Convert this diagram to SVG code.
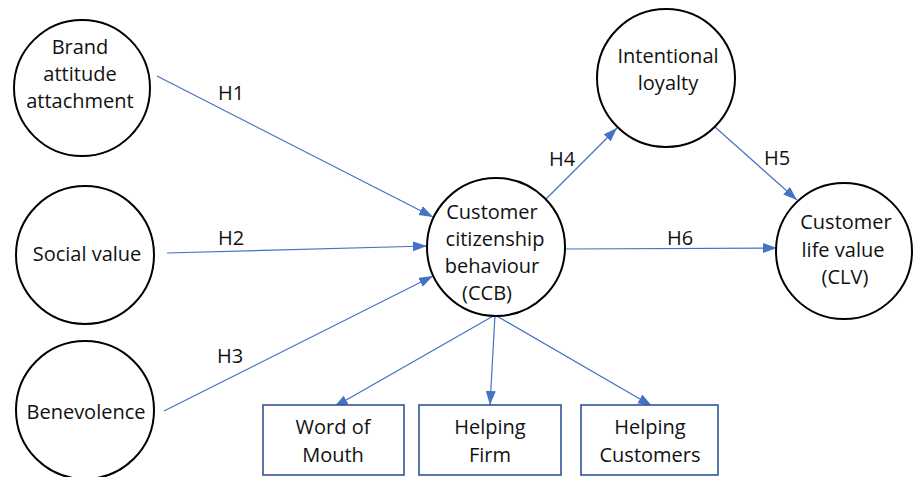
<svg xmlns="http://www.w3.org/2000/svg" width="914" height="477" viewBox="0 0 914 477">
<defs>
<marker id="ah" markerUnits="userSpaceOnUse" markerWidth="15" markerHeight="11" refX="14" refY="5" orient="auto">
<path d="M0,0 L14,5 L0,10 z" fill="#4472C4"/>
</marker>
<style>
.c{fill:#fff;stroke:#000;stroke-width:2}
.b{fill:#fff;stroke:#2F5597;stroke-width:1.6}
.t{font-family:"Open Sans","Liberation Sans",sans-serif;font-size:20px;fill:#111;text-anchor:middle}
.e{fill:none;stroke:#4472C4;stroke-width:1.2;marker-end:url(#ah)}
</style>
</defs>
<rect width="914" height="477" fill="#fff"/>
<g id="connectors">
<line class="e" x1="157" y1="76" x2="433" y2="217"/>
<line class="e" x1="167" y1="253" x2="427" y2="246"/>
<line class="e" x1="164" y1="411" x2="433" y2="276"/>
<line class="e" x1="540" y1="205" x2="617" y2="128"/>
<line class="e" x1="715" y1="127" x2="797" y2="200"/>
<line class="e" x1="565" y1="249" x2="777" y2="248"/>
<line class="e" x1="495" y1="315" x2="334" y2="407"/>
<line class="e" x1="495" y1="315" x2="490" y2="405"/>
<line class="e" x1="495" y1="315" x2="652" y2="406"/>
<text class="t" x="231" y="100">H1</text>
<text class="t" x="231" y="245">H2</text>
<text class="t" x="230" y="363">H3</text>
<text class="t" x="562" y="166">H4</text>
<text class="t" x="777" y="165">H5</text>
<text class="t" x="680" y="245">H6</text>
</g>
<g id="brand">
<circle class="c" cx="82" cy="88" r="68"/>
<text class="t" x="80" y="54">Brand</text>
<text class="t" x="80" y="81">attitude</text>
<text class="t" x="80" y="108">attachment</text>
</g>
<g id="social">
<circle class="c" cx="85" cy="255" r="69"/>
<text class="t" x="87" y="261">Social value</text>
</g>
<g id="benevolence">
<circle class="c" cx="85" cy="410" r="69"/>
<text class="t" x="86" y="419">Benevolence</text>
</g>
<g id="ccb">
<circle class="c" cx="496" cy="247" r="69"/>
<text class="t" x="492" y="219">Customer</text>
<text class="t" x="495" y="246">citizenship</text>
<text class="t" x="492" y="273">behaviour</text>
<text class="t" x="487" y="300">(CCB)</text>
</g>
<g id="loyalty">
<circle class="c" cx="666" cy="78" r="69"/>
<text class="t" x="668" y="63">Intentional</text>
<text class="t" x="668" y="90">loyalty</text>
</g>
<g id="clv">
<circle class="c" cx="844" cy="251" r="68"/>
<text class="t" x="846" y="229">Customer</text>
<text class="t" x="843" y="257">life value</text>
<text class="t" x="845" y="284">(CLV)</text>
</g>
<g id="wom">
<rect class="b" x="263" y="405" width="141" height="70"/>
<text class="t" x="333" y="434">Word of</text>
<text class="t" x="333" y="462">Mouth</text>
</g>
<g id="firm">
<rect class="b" x="419" y="405" width="142" height="70"/>
<text class="t" x="490" y="434">Helping</text>
<text class="t" x="490" y="462">Firm</text>
</g>
<g id="customers">
<rect class="b" x="581" y="405" width="137" height="70"/>
<text class="t" x="650" y="434">Helping</text>
<text class="t" x="650" y="462">Customers</text>
</g>
</svg>
